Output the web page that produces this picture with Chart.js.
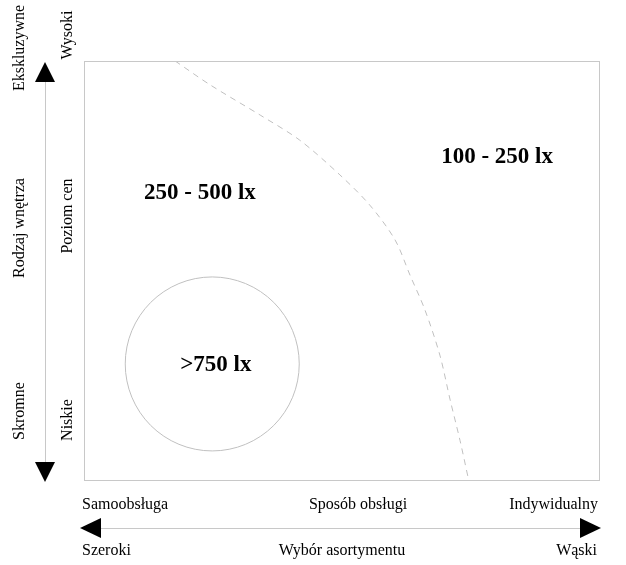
<!DOCTYPE html>
<html><head><meta charset="utf-8">
<script src="https://cdn.jsdelivr.net/npm/chart.js@4"></script>
<style>body{margin:0;background:#fff}</style>
</head><body>
<canvas id="c" width="626" height="565"></canvas>
<script>
// boundary between zones (dashed line), in % of axis range
var boundaryX = [17.7, 24.5, 34.2, 41.9, 49.7, 55.5, 60.4, 63.3, 66.2, 69.1, 71.1, 73.0, 74.6];
var boundaryY = [100, 94.3, 87.1, 81.1, 72.8, 65.6, 57.3, 48.9, 40.6, 29.8, 19.1, 9.5, 0.5];
// zone labels
var zoneText = ['250 - 500 lx', '100 - 250 lx', '>750 lx'];
var zoneX = [22.5, 80.2, 25.6];
var zoneY = [68.5, 77.1, 27.4];
// circle zone
var circleX = [24.9];
var circleY = [27.7];

var serif = '"Liberation Serif", "DejaVu Serif", serif';

var decor = {
  id: 'decor',
  afterDraw: function(chart){
    var ctx = chart.ctx, a = chart.chartArea, sx = chart.scales.x, sy = chart.scales.y;
    ctx.save();
    ctx.strokeStyle = '#c8c8c8'; ctx.lineWidth = 1;
    ctx.strokeRect(a.left + 0.5, a.top + 0.5, a.right - a.left, a.bottom - a.top);
    ctx.fillStyle = '#000';
    ctx.font = 'bold 23px ' + serif; ctx.textAlign = 'center'; ctx.textBaseline = 'middle';
    zoneText.forEach(function(t, i){ ctx.fillText(t, sx.getPixelForValue(zoneX[i]), sy.getPixelForValue(zoneY[i])); });
    ctx.font = '16px ' + serif;
    function vtext(t, x, y){ ctx.save(); ctx.translate(x, y); ctx.rotate(-Math.PI/2); ctx.fillText(t, 0, 0); ctx.restore(); }
    vtext('Ekskluzywne', 20, 48); vtext('Rodzaj wnętrza', 20, 228); vtext('Skromne', 20, 411);
    vtext('Wysoki', 68, 35); vtext('Poziom cen', 68, 216); vtext('Niskie', 68, 420);
    // vertical arrow
    ctx.strokeStyle = '#c8c8c8';
    ctx.beginPath(); ctx.moveTo(45.5, 75); ctx.lineTo(45.5, 470); ctx.stroke();
    ctx.beginPath(); ctx.moveTo(45, 62); ctx.lineTo(35, 82); ctx.lineTo(55, 82); ctx.closePath(); ctx.fill();
    ctx.beginPath(); ctx.moveTo(45, 482); ctx.lineTo(35, 462); ctx.lineTo(55, 462); ctx.closePath(); ctx.fill();
    // horizontal arrow
    ctx.beginPath(); ctx.moveTo(95, 528.5); ctx.lineTo(590, 528.5); ctx.stroke();
    ctx.beginPath(); ctx.moveTo(80, 528); ctx.lineTo(101, 518); ctx.lineTo(101, 538); ctx.closePath(); ctx.fill();
    ctx.beginPath(); ctx.moveTo(601, 528); ctx.lineTo(580, 518); ctx.lineTo(580, 538); ctx.closePath(); ctx.fill();
    ctx.textAlign = 'left'; ctx.fillText('Samoobsługa', 82, 505); ctx.fillText('Szeroki', 82, 551);
    ctx.textAlign = 'center'; ctx.fillText('Sposób obsługi', 358, 505); ctx.fillText('Wybór asortymentu', 342, 551);
    ctx.textAlign = 'right'; ctx.fillText('Indywidualny', 598, 505); ctx.fillText('Wąski', 597, 551);
    ctx.restore();
  }
};

new Chart(document.getElementById('c'), {
  type: 'scatter',
  data: { datasets: [
    { type: 'line', data: boundaryX.map(function(x, i){ return {x: x, y: boundaryY[i]}; }),
      borderColor: '#c0c0c0', borderWidth: 1, borderDash: [6, 5], pointRadius: 0, tension: 0.3, fill: false },
    { type: 'bubble', data: circleX.map(function(x, i){ return {x: x, y: circleY[i], r: 87}; }),
      backgroundColor: 'rgba(0,0,0,0)', borderColor: '#c0c0c0', borderWidth: 1, hoverRadius: 0 }
  ]},
  options: {
    responsive: false, animation: false,
    layout: { autoPadding: false, padding: { left: 84, right: 27, top: 61, bottom: 85 } },
    plugins: { legend: { display: false }, tooltip: { enabled: false } },
    scales: {
      x: { type: 'linear', min: 0, max: 100, display: false },
      y: { type: 'linear', min: 0, max: 100, display: false }
    }
  },
  plugins: [decor]
});
</script>
</body></html>
